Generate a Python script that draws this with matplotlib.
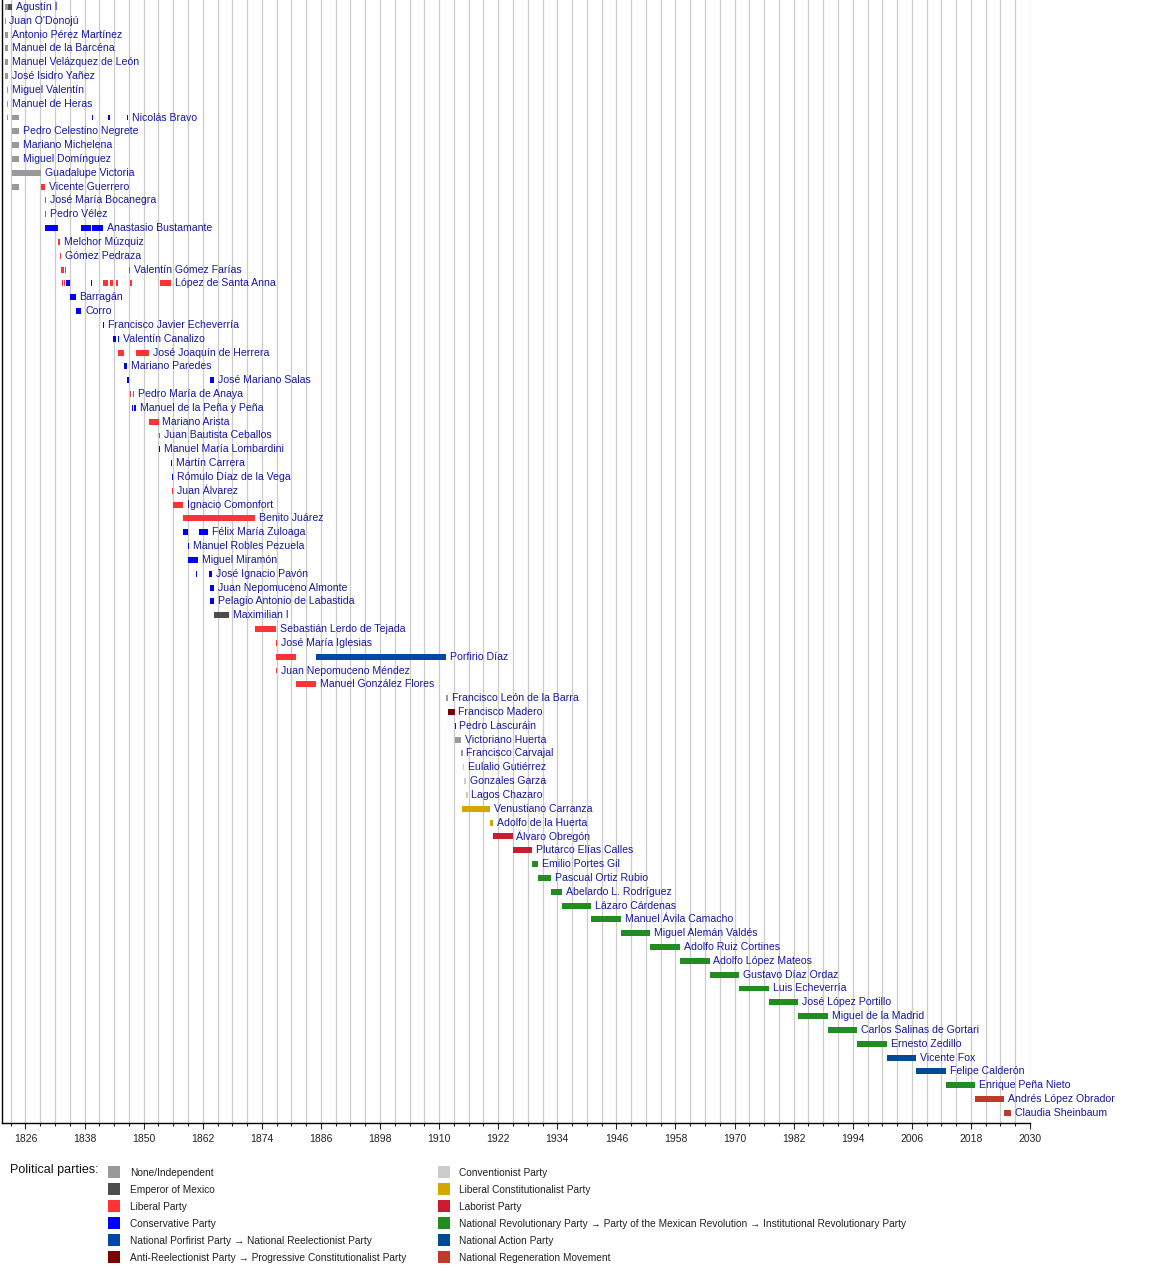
import matplotlib
matplotlib.use("Agg")
import matplotlib.pyplot as plt
from matplotlib.patches import Rectangle
from matplotlib.ticker import FixedLocator
import numpy as np

plt.rcParams['font.family'] = ['Liberation Sans', 'DejaVu Sans']

# ---------------- data ----------------
party_keys = ['none', 'emperor', 'lib', 'cons', 'porf', 'antire',
              'conv', 'libcon', 'labor', 'pri', 'pan', 'morena']
party_labels = ['None/Independent', 'Emperor of Mexico', 'Liberal Party',
                'Conservative Party',
                'National Porfirist Party \u2192 National Reelectionist Party',
                'Anti-Reelectionist Party \u2192 Progressive Constitutionalist Party',
                'Conventionist Party', 'Liberal Constitutionalist Party',
                'Laborist Party',
                'National Revolutionary Party \u2192 Party of the Mexican Revolution \u2192 Institutional Revolutionary Party',
                'National Action Party', 'National Regeneration Movement']
party_colors = ['#999999', '#4d4d4d', '#ff3333', '#0000ff', '#0048a8', '#7f0000',
                '#cccccc', '#d4a600', '#cc1a2e', '#228b22', '#014a94', '#c0392b']

names = ["Agustín I", "Juan O'Donojú", "Antonio Pérez Martínez", "Manuel de la Barcéna",
         "Manuel Velázquez de León", "José Isidro Yañez", "Miguel Valentín", "Manuel de Heras",
         "Nicolás Bravo", "Pedro Celestino Negrete", "Mariano Michelena", "Miguel Domínguez",
         "Guadalupe Victoria", "Vicente Guerrero", "José María Bocanegra", "Pedro Vélez",
         "Anastasio Bustamante", "Melchor Múzquiz", "Gómez Pedraza", "Valentín Gómez Farías",
         "López de Santa Anna", "Barragán", "Corro", "Francisco Javier Echeverría",
         "Valentín Canalizo", "José Joaquín de Herrera", "Mariano Paredes", "José Mariano Salas",
         "Pedro María de Anaya", "Manuel de la Peña y Peña", "Mariano Arista",
         "Juan Bautista Ceballos", "Manuel María Lombardini", "Martín Carrera",
         "Rómulo Díaz de la Vega", "Juan Álvarez", "Ignacio Comonfort", "Benito Juárez",
         "Félix María Zuloaga", "Manuel Robles Pezuela", "Miguel Miramón", "José Ignacio Pavón",
         "Juan Nepomuceno Almonte", "Pelagio Antonio de Labastida", "Maximilian I",
         "Sebastián Lerdo de Tejada", "José María Iglesias", "Porfirio Díaz",
         "Juan Nepomuceno Méndez", "Manuel González Flores", "Francisco León de la Barra",
         "Francisco Madero", "Pedro Lascuráin", "Victoriano Huerta", "Francisco Carvajal",
         "Eulalio Gutiérrez", "Gonzales Garza", "Lagos Chazaro", "Venustiano Carranza",
         "Adolfo de la Huerta", "Álvaro Obregón", "Plutarco Elías Calles", "Emilio Portes Gil",
         "Pascual Ortiz Rubio", "Abelardo L. Rodríguez", "Lázaro Cárdenas",
         "Manuel Ávila Camacho", "Miguel Alemán Valdés", "Adolfo Ruiz Cortines",
         "Adolfo López Mateos", "Gustavo Díaz Ordaz", "Luis Echeverría", "José López Portillo",
         "Miguel de la Madrid", "Carlos Salinas de Gortari", "Ernesto Zedillo", "Vicente Fox",
         "Felipe Calderón", "Enrique Peña Nieto", "Andrés López Obrador", "Claudia Sheinbaum"]

# terms per row: (start year, end year, party)
terms = [
    [(1821.9, 1822.55, 'none'), (1822.55, 1823.35, 'emperor')],
    [(1821.74, 1821.77, 'none')],
    [(1821.78, 1822.38, 'none')],
    [(1821.78, 1822.38, 'none')],
    [(1821.78, 1822.38, 'none')],
    [(1821.78, 1822.38, 'none')],
    [(1822.28, 1822.38, 'none')],
    [(1822.28, 1822.38, 'none')],
    [(1822.28, 1822.38, 'none'), (1823.25, 1824.78, 'none'), (1839.52, 1839.55, 'cons'),
     (1842.82, 1843.17, 'cons'), (1846.57, 1846.6, 'cons')],
    [(1823.25, 1824.78, 'none')],
    [(1823.25, 1824.78, 'none')],
    [(1823.25, 1824.78, 'none')],
    [(1823.25, 1829.25, 'none')],
    [(1823.25, 1824.78, 'none'), (1829.25, 1829.96, 'lib')],
    [(1829.96, 1830.0, 'lib')],
    [(1829.98, 1830.0, 'lib')],
    [(1830.0, 1832.62, 'cons'), (1837.3, 1839.22, 'cons'), (1839.55, 1841.73, 'cons')],
    [(1832.62, 1832.98, 'lib')],
    [(1832.98, 1833.25, 'lib')],
    [(1833.25, 1833.37, 'lib'), (1833.42, 1833.46, 'lib'), (1833.5, 1833.82, 'lib'),
     (1833.95, 1834.31, 'lib'), (1846.98, 1847.22, 'lib')],
    [(1833.37, 1833.42, 'lib'), (1833.46, 1833.5, 'lib'), (1833.82, 1833.95, 'lib'),
     (1834.31, 1835.07, 'cons'), (1839.22, 1839.52, 'cons'), (1841.78, 1842.82, 'lib'),
     (1843.17, 1843.76, 'lib'), (1844.42, 1844.7, 'lib'), (1847.22, 1847.25, 'lib'),
     (1847.38, 1847.71, 'lib'), (1853.3, 1855.61, 'lib')],
    [(1835.07, 1836.16, 'cons')],
    [(1836.17, 1837.3, 'cons')],
    [(1841.73, 1841.78, 'cons')],
    [(1843.76, 1844.42, 'cons'), (1844.72, 1844.93, 'cons')],
    [(1844.7, 1844.72, 'lib'), (1844.93, 1845.99, 'lib'), (1848.42, 1851.04, 'lib')],
    [(1846.01, 1846.57, 'cons')],
    [(1846.6, 1846.98, 'cons'), (1863.48, 1864.3, 'cons')],
    [(1847.25, 1847.38, 'lib'), (1847.87, 1848.02, 'lib')],
    [(1847.71, 1847.87, 'cons'), (1848.02, 1848.42, 'cons')],
    [(1851.04, 1853.02, 'lib')],
    [(1853.02, 1853.1, 'lib')],
    [(1853.1, 1853.3, 'cons')],
    [(1855.62, 1855.7, 'cons')],
    [(1855.7, 1855.76, 'cons')],
    [(1855.76, 1855.95, 'lib')],
    [(1855.95, 1858.0, 'lib')],
    [(1858.0, 1872.55, 'lib')],
    [(1858.06, 1858.98, 'cons'), (1861.3, 1863.15, 'cons')],
    [(1858.98, 1859.06, 'cons')],
    [(1859.09, 1860.98, 'cons')],
    [(1860.7, 1860.72, 'cons'), (1863.35, 1863.95, 'cons')],
    [(1863.48, 1864.3, 'cons')],
    [(1863.48, 1864.3, 'cons')],
    [(1864.3, 1867.4, 'emperor')],
    [(1872.55, 1876.89, 'lib')],
    [(1876.83, 1877.06, 'lib')],
    [(1876.9, 1876.93, 'lib'), (1877.13, 1880.91, 'lib'), (1884.92, 1911.4, 'porf')],
    [(1876.93, 1877.13, 'lib')],
    [(1880.91, 1884.92, 'lib')],
    [(1911.4, 1911.85, 'none')],
    [(1911.85, 1913.13, 'antire')],
    [(1913.13, 1913.15, 'antire')],
    [(1913.14, 1914.54, 'none')],
    [(1914.54, 1914.62, 'none')],
    [(1914.85, 1915.04, 'conv')],
    [(1915.04, 1915.44, 'conv')],
    [(1915.44, 1915.78, 'conv')],
    [(1914.64, 1920.39, 'libcon')],
    [(1920.41, 1920.92, 'libcon')],
    [(1920.92, 1924.92, 'labor')],
    [(1924.92, 1928.92, 'labor')],
    [(1928.92, 1930.1, 'pri')],
    [(1930.1, 1932.68, 'pri')],
    [(1932.68, 1934.92, 'pri')],
    [(1934.92, 1940.92, 'pri')],
    [(1940.92, 1946.92, 'pri')],
    [(1946.92, 1952.92, 'pri')],
    [(1952.92, 1958.92, 'pri')],
    [(1958.92, 1964.92, 'pri')],
    [(1964.92, 1970.92, 'pri')],
    [(1970.92, 1976.92, 'pri')],
    [(1976.92, 1982.92, 'pri')],
    [(1982.92, 1988.92, 'pri')],
    [(1988.92, 1994.92, 'pri')],
    [(1994.92, 2000.92, 'pri')],
    [(2000.92, 2006.92, 'pan')],
    [(2006.92, 2012.92, 'pan')],
    [(2012.92, 2018.92, 'pri')],
    [(2018.92, 2024.75, 'morena')],
    [(2024.75, 2026.1, 'morena')],
]

major_ticks = list(range(1826, 2031, 12))
grid_years = list(range(1823, 2031, 3))

# ---------------- figure ----------------
W, H = 1150, 1273
fig = plt.figure(figsize=(W / 100, H / 100), dpi=100)
ax = fig.add_axes([2 / W, 1 - 1123 / H, (1030 - 2) / W, 1123 / H])

color_of = dict(zip(party_keys, party_colors))
label_color = '#1717a8'

for i, (name, row) in enumerate(zip(names, terms)):
    for (s, e, p) in row:
        ax.barh(i, max(e - s, 0.22), left=s, height=0.43, color=color_of[p],
                linewidth=0, zorder=3)
    last_end = max(max(e, s + 0.22) for s, e, p in row)
    ax.annotate(name, xy=(last_end, i), xytext=(2.8, 0), textcoords='offset points',
                va='center', ha='left', fontsize=7.6, color=label_color,
                annotation_clip=False, zorder=4)

ax.set_xlim(1821.23, 2030)
ax.set_ylim(80.73, -0.5)

ax.xaxis.set_major_locator(FixedLocator(major_ticks))
ax.xaxis.set_minor_locator(FixedLocator(grid_years))
ax.set_xticklabels([str(y) for y in major_ticks])
ax.tick_params(axis='x', which='major', direction='out', length=4.5, width=0.8,
               labelsize=7.5, colors='#222222', pad=3.5)
ax.tick_params(axis='x', which='minor', direction='out', length=2.5, width=0.8,
               colors='#222222')
ax.set_yticks([])
for y in grid_years:
    ax.axvline(y, color='#cccccc', lw=0.9, zorder=1)
for sp in ['top', 'right']:
    ax.spines[sp].set_visible(False)
for sp in ['left', 'bottom']:
    ax.spines[sp].set_color('black')
    ax.spines[sp].set_linewidth(1.0)

# ---------------- legend ----------------
lax = fig.add_axes([0, 0, 1, 1], zorder=-1)
lax.set_xlim(0, W)
lax.set_ylim(H, 0)
lax.axis('off')
lax.text(10, 1170.5, 'Political parties:', fontsize=9, color='#111111', va='center', ha='left')
col_x = [108, 438]
text_x = [130, 459]
for k, (lab, col) in enumerate(zip(party_labels, party_colors)):
    c = k // 6
    r = k % 6
    yc = 1172 + r * 17
    lax.add_patch(Rectangle((col_x[c], yc - 6), 12, 12, color=col, lw=0))
    lax.text(text_x[c], yc + 1, lab, fontsize=7.3, color='#222222', va='center', ha='left')

fig.savefig('out.png', dpi=100)
